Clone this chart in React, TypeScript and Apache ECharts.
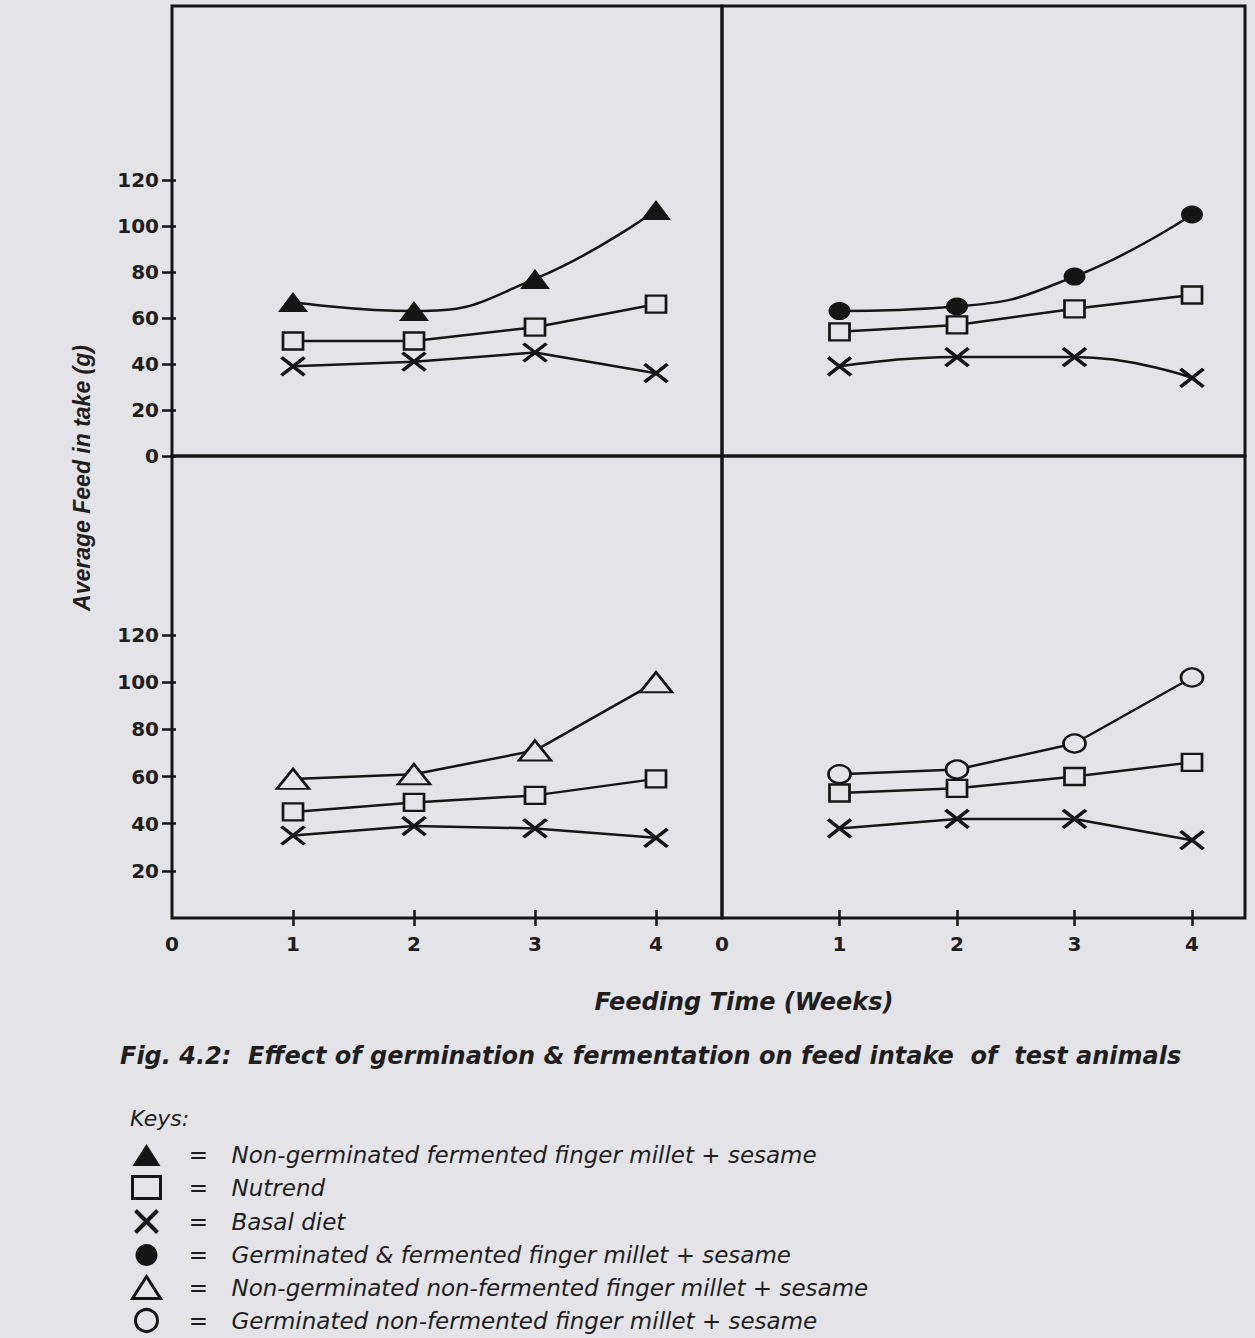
import React, { useEffect, useRef } from 'react';
import * as echarts from 'echarts';

// ---- data ----
const weeks = [1, 2, 3, 4];
const xTickValues = [1, 2, 3, 4];
const xLabelValues = [0, 1, 2, 3, 4];
const yTopTicks = [0, 20, 40, 60, 80, 100, 120];
const yBottomTicks = [20, 40, 60, 80, 100, 120];

// Top-left panel
const ngFermentedTL = [67, 63, 77, 107];
const nutrendTL = [50, 50, 56, 66];
const basalTL = [39, 41, 45, 36];
// Top-right panel
const gFermentedTR = [63, 65, 78, 105];
const nutrendTR = [54, 57, 64, 70];
const basalTR = [39, 43, 43, 34];
// Bottom-left panel
const ngNonFermentedBL = [59, 61, 71, 100];
const nutrendBL = [45, 49, 52, 59];
const basalBL = [35, 39, 38, 34];
// Bottom-right panel
const gNonFermentedBR = [61, 63, 74, 102];
const nutrendBR = [53, 55, 60, 66];
const basalBR = [38, 42, 42, 33];

const N_NGF = 'Non-germinated fermented finger millet + sesame';
const N_NUT = 'Nutrend';
const N_BAS = 'Basal diet';
const N_GF = 'Germinated & fermented finger millet + sesame';
const N_NGNF = 'Non-germinated non-fermented finger millet + sesame';
const N_GNF = 'Germinated non-fermented finger millet + sesame';

// ---- styles ----
const BG = '#e4e3e8';
const INK = '#151515';
const TXT = '#1e1e1e';
const X_PATH = 'path://M0,0L20,16M20,0L0,16';
const X_LEGEND = 'path://M0,0L20,20M20,0L0,20';

const XL_MAX = 550 / 121;
const XR_MAX = 523 / 117.5;
const YT_MAX = 450 / 2.3;
const YB_MAX = 462 / 2.358;

function pts(vals: number[]) {
  return weeks.map((w, i) => [w, vals[i]]);
}

type Kind = 'filled' | 'hollow' | 'cross';

function mkSeries(
  name: string,
  vals: number[],
  grid: number,
  symbol: string,
  size: number[],
  kind: Kind,
  smooth: number | boolean
) {
  const itemStyle =
    kind === 'filled'
      ? { color: INK, borderColor: INK, borderWidth: 0 }
      : kind === 'hollow'
      ? { color: BG, borderColor: INK, borderWidth: 2.5 }
      : { color: 'none', borderColor: INK, borderWidth: 3.5 };
  return {
    type: 'line',
    name,
    xAxisIndex: grid,
    yAxisIndex: grid,
    data: pts(vals),
    symbol,
    symbolSize: size,
    showSymbol: true,
    smooth,
    itemStyle,
    lineStyle: { color: INK, width: 2.5 },
    emphasis: { disabled: true },
    z: 3,
  };
}

const labelFont = {
  fontFamily: 'DejaVu Sans',
  fontWeight: 'bold' as const,
  fontSize: 20,
  color: TXT,
};

function xAxisLabelled(grid: number, max: number) {
  return {
    type: 'value',
    gridIndex: grid,
    min: 0,
    max,
    position: 'bottom',
    axisLine: { show: false },
    splitLine: { show: false },
    axisTick: {
      show: true,
      length: 8,
      customValues: xTickValues,
      lineStyle: { color: INK, width: 2.5 },
    },
    axisLabel: { ...labelFont, margin: 16, customValues: xLabelValues },
  };
}

function xAxisInner(grid: number, max: number) {
  return {
    type: 'value',
    gridIndex: grid,
    min: 0,
    max,
    position: 'bottom',
    axisLine: { show: false },
    splitLine: { show: false },
    axisTick: {
      show: true,
      inside: true,
      length: 8,
      customValues: xTickValues,
      lineStyle: { color: INK, width: 2.5 },
    },
    axisLabel: { show: false },
  };
}

function yAxisLabelled(grid: number, max: number, ticks: number[]) {
  return {
    type: 'value',
    gridIndex: grid,
    min: 0,
    max,
    position: 'left',
    axisLine: { show: false },
    splitLine: { show: false },
    axisTick: {
      show: true,
      length: 10,
      customValues: ticks,
      lineStyle: { color: INK, width: 2.5 },
    },
    axisLabel: { ...labelFont, margin: 13, customValues: ticks },
  };
}

function yAxisInner(grid: number, max: number, ticks: number[]) {
  return {
    type: 'value',
    gridIndex: grid,
    min: 0,
    max,
    position: 'left',
    axisLine: { show: false },
    splitLine: { show: false },
    axisTick: {
      show: true,
      inside: true,
      length: 4,
      customValues: ticks,
      lineStyle: { color: INK, width: 2.5 },
    },
    axisLabel: { show: false },
  };
}

function hiddenAxis(grid: number, max: number) {
  return { type: 'value', gridIndex: grid, min: 0, max, show: false };
}

export default function App() {
  const ref = useRef<HTMLDivElement>(null);

  useEffect(() => {
    if (!ref.current) return;
    const chart = echarts.init(ref.current, null, { renderer: 'svg' });

    const gridBase = {
      show: true,
      borderColor: INK,
      borderWidth: 3,
      backgroundColor: 'transparent',
      containLabel: false,
    };

    const richBase = {
      fontFamily: 'DejaVu Sans',
      fontSize: 23,
      lineHeight: 24,
      color: TXT,
    };

    const option: any = {
      animation: false,
      backgroundColor: BG,
      grid: [
        { ...gridBase, left: 172, top: 6, width: 550, height: 450 },
        { ...gridBase, left: 722, top: 6, width: 523, height: 450 },
        { ...gridBase, left: 172, top: 456, width: 550, height: 462 },
        { ...gridBase, left: 722, top: 456, width: 523, height: 462 },
      ],
      xAxis: [
        hiddenAxis(0, XL_MAX),
        hiddenAxis(1, XR_MAX),
        xAxisLabelled(2, XL_MAX),
        xAxisLabelled(3, XR_MAX),
        xAxisInner(2, XL_MAX),
        xAxisInner(3, XR_MAX),
      ],
      yAxis: [
        yAxisLabelled(0, YT_MAX, yTopTicks),
        hiddenAxis(1, YT_MAX),
        yAxisLabelled(2, YB_MAX, yBottomTicks),
        hiddenAxis(3, YB_MAX),
        yAxisInner(0, YT_MAX, yTopTicks),
        yAxisInner(2, YB_MAX, yBottomTicks),
      ],
      legend: {
        orient: 'vertical',
        left: 131,
        top: 1143,
        width: 900,
        height: 400,
        padding: 0,
        itemWidth: 28,
        itemHeight: 22,
        itemGap: 8,
        selectedMode: false,
        symbolKeepAspect: true,
        formatter: (name: string) => `{eq|=}{t|${name}}`,
        textStyle: {
          ...richBase,
          fontStyle: 'italic',
          rich: {
            eq: { ...richBase, width: 66, align: 'center', fontStyle: 'normal' },
            t: { ...richBase, fontStyle: 'italic' },
          },
        },
        data: [
          { name: N_NGF, icon: 'triangle', itemStyle: { color: INK, borderWidth: 0 } },
          { name: N_NUT, icon: 'rect', itemStyle: { color: BG, borderColor: INK, borderWidth: 3 } },
          { name: N_BAS, icon: X_LEGEND, itemStyle: { color: 'none', borderColor: INK, borderWidth: 4 } },
          { name: N_GF, icon: 'circle', itemStyle: { color: INK, borderWidth: 0 } },
          { name: N_NGNF, icon: 'triangle', itemStyle: { color: BG, borderColor: INK, borderWidth: 3 } },
          { name: N_GNF, icon: 'circle', itemStyle: { color: BG, borderColor: INK, borderWidth: 3 } },
        ],
      },
      graphic: [
        {
          type: 'text',
          x: 82,
          y: 478,
          rotation: Math.PI / 2,
          style: {
            text: 'Average Feed in take (g)',
            fontFamily: 'Liberation Sans',
            fontWeight: 'bold',
            fontStyle: 'italic',
            fontSize: 23,
            fill: TXT,
            align: 'center',
            verticalAlign: 'middle',
          },
        },
        {
          type: 'text',
          x: 744,
          y: 1002,
          style: {
            text: 'Feeding Time (Weeks)',
            fontFamily: 'DejaVu Sans',
            fontWeight: 'bold',
            fontStyle: 'italic',
            fontSize: 24,
            fill: TXT,
            align: 'center',
            verticalAlign: 'middle',
          },
        },
        {
          type: 'text',
          x: 120,
          y: 1056,
          style: {
            text: 'Fig. 4.2:  Effect of germination & fermentation on feed intake  of  test animals',
            fontFamily: 'DejaVu Sans',
            fontWeight: 'bold',
            fontStyle: 'italic',
            fontSize: 24,
            fill: TXT,
            align: 'left',
            verticalAlign: 'middle',
          },
        },
        {
          type: 'text',
          x: 130,
          y: 1118,
          style: {
            text: 'Keys:',
            fontFamily: 'DejaVu Sans',
            fontStyle: 'italic',
            fontSize: 22,
            fill: TXT,
            align: 'left',
            verticalAlign: 'middle',
          },
        },
      ],
      series: [
        // top-left
        mkSeries(N_NGF, ngFermentedTL, 0, 'triangle', [30, 20], 'filled', 0.5),
        mkSeries(N_NUT, nutrendTL, 0, 'rect', [20, 17], 'hollow', false),
        mkSeries(N_BAS, basalTL, 0, X_PATH, [23, 18], 'cross', false),
        // top-right
        mkSeries(N_GF, gFermentedTR, 1, 'circle', [22, 18], 'filled', 0.5),
        mkSeries(N_NUT, nutrendTR, 1, 'rect', [20, 17], 'hollow', false),
        mkSeries(N_BAS, basalTR, 1, X_PATH, [23, 18], 'cross', 0.5),
        // bottom-left
        mkSeries(N_NGNF, ngNonFermentedBL, 2, 'triangle', [32, 20], 'hollow', false),
        mkSeries(N_NUT, nutrendBL, 2, 'rect', [20, 17], 'hollow', false),
        mkSeries(N_BAS, basalBL, 2, X_PATH, [23, 18], 'cross', false),
        // bottom-right
        mkSeries(N_GNF, gNonFermentedBR, 3, 'circle', [22, 18], 'hollow', false),
        mkSeries(N_NUT, nutrendBR, 3, 'rect', [20, 17], 'hollow', false),
        mkSeries(N_BAS, basalBR, 3, X_PATH, [23, 18], 'cross', false),
      ],
    };

    chart.setOption(option);
    return () => {
      chart.dispose();
    };
  }, []);

  return (
    <div
      ref={ref}
      style={{ position: 'absolute', left: 0, top: 0, width: 1255, height: 1338 }}
    />
  );
}
